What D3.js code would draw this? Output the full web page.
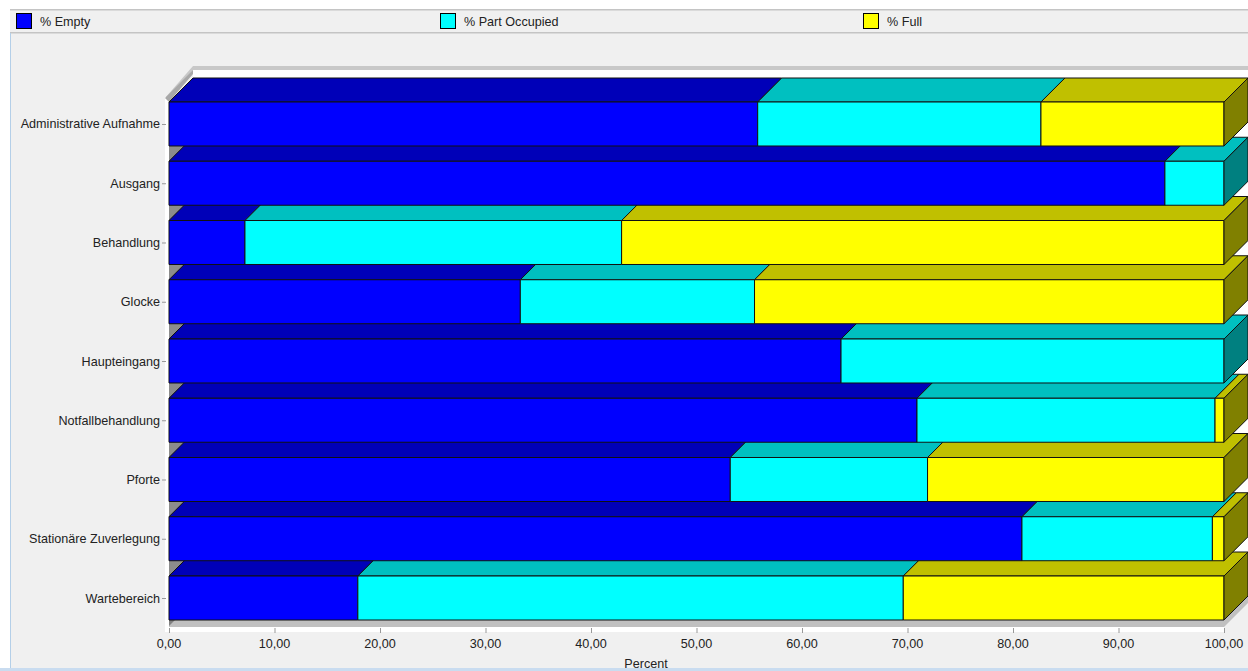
<!DOCTYPE html>
<html>
<head>
<meta charset="utf-8">
<script src="https://cdn.jsdelivr.net/npm/d3@7/dist/d3.min.js"></script>
<style>
  body { margin: 0; background: #fff; }
  svg { display: block; font-family: "Liberation Sans", Arial, sans-serif; }
</style>
</head>
<body>
<div id="chart"></div>
<script>
const categories = [
  "Administrative Aufnahme", "Ausgang", "Behandlung", "Glocke", "Haupteingang",
  "Notfallbehandlung", "Pforte", "Stationäre Zuverlegung", "Wartebereich"
];
const seriesNames = ["% Empty", "% Part Occupied", "% Full"];
const empty = [55.8, 94.4, 7.2, 33.3, 63.7, 70.9, 53.2, 80.85, 17.9];
const partOccupied = [26.85, 5.6, 35.7, 22.2, 36.3, 28.25, 18.7, 18.05, 51.7];
const full = [17.35, 0, 57.1, 44.5, 0, 0.85, 28.1, 1.1, 30.4];
const xTicks = [0, 10, 20, 30, 40, 50, 60, 70, 80, 90, 100];

const W = 1248, H = 671;
const depth = 24;
const fs = 12.6;
const colors = {
  front: ["#0000ff", "#00ffff", "#ffff00"],
  top: ["#0000b8", "#00c0c0", "#c0c000"],
  side: ["#000080", "#008080", "#808000"]
};

const svg = d3.select("#chart").append("svg").attr("width", W).attr("height", H);

// background + frame
svg.append("rect").attr("width", W).attr("height", H).attr("fill", "#f0f0f0");
svg.append("rect").attr("width", W).attr("height", 9).attr("fill", "#fff");
svg.append("rect").attr("x", 10).attr("y", 9).attr("width", W - 10).attr("height", 1.5).attr("fill", "#c4c4c4");
svg.append("rect").attr("x", 10).attr("y", 32).attr("width", W - 10).attr("height", 1.5).attr("fill", "#c4c4c4");
svg.append("rect").attr("x", 0).attr("y", 9).attr("width", 10).attr("height", H).attr("fill", "#fff");
svg.append("rect").attr("x", 10).attr("y", 33).attr("width", 1).attr("height", H).attr("fill", "#b4cfe8");
svg.append("rect").attr("x", 0).attr("y", 668).attr("width", W).attr("height", 3).attr("fill", "#c9dcf0");

// legend
const legendX = [16, 440, 863];
const legend = svg.append("g");
seriesNames.forEach((name, i) => {
  legend.append("rect")
    .attr("x", legendX[i] + 0.5).attr("y", 13.5)
    .attr("width", 15).attr("height", 15)
    .attr("fill", colors.front[i]).attr("stroke", "#000");
  legend.append("text")
    .attr("x", legendX[i] + 24).attr("y", 26)
    .attr("font-size", fs).attr("fill", "#222")
    .text(name);
});

// scales
const x = d3.scaleLinear().domain([0, 100]).range([169, 1224]);
const y = d3.scaleBand().domain(categories).range([102, 620]).paddingInner(0.2574).paddingOuter(0);

const x0 = x(0), x1 = x(100);
const floorY = y.range()[1];

// walls
const walls = svg.append("g");
// top edge of back wall
walls.append("polygon")
  .attr("points", [[165, 98], [x0 + depth, 66], [W, 66], [W, 70], [x0 + depth, 70], [169, 102]].join(" "))
  .attr("fill", "#c8c8c8");
// back wall
walls.append("rect")
  .attr("x", x0 + depth).attr("y", 70)
  .attr("width", W - x0 - depth).attr("height", floorY - depth - 70)
  .attr("fill", "#fff");
// left wall face
walls.append("polygon")
  .attr("points", [[x0, 102], [x0 + depth, 78], [x0 + depth, floorY - depth], [x0, floorY]].join(" "))
  .attr("fill", "#8c8c8c");
// left wall edge
walls.append("rect").attr("x", 165).attr("y", 97).attr("width", 4).attr("height", 535).attr("fill", "#fff");
walls.append("polygon")
  .attr("points", [[165, 98], [169, 94], [x0 + depth, 70], [x0 + depth, 74], [169, 102]].join(" "))
  .attr("fill", "#a8a8a8");
// floor edge
walls.append("polygon")
  .attr("points", [[x0, floorY], [x1, floorY], [x1 + depth, floorY - depth], [x1 + depth, floorY - depth + 7], [x1, floorY + 7], [x0, floorY + 7]].join(" "))
  .attr("fill", "#c0c0c0");
walls.append("polygon")
  .attr("points", [[x0, floorY], [x0 + 6, floorY], [x0, floorY + 6]].join(" "))
  .attr("fill", "#808080");
walls.append("rect").attr("x", 165).attr("y", floorY + 7).attr("width", x1 - 165).attr("height", 5).attr("fill", "#fff");

// stacked data
const rows = categories.map((c, i) => {
  const vals = [empty[i], partOccupied[i], full[i]];
  let acc = 0;
  const segs = vals.map((v, k) => {
    const s = { k, v, a: acc, b: acc + v };
    acc += v;
    return s;
  }).filter(s => s.v > 0);
  return { c, segs };
});

const bars = svg.append("g").attr("stroke", "#111").attr("stroke-width", 1).attr("stroke-linejoin", "round");

// draw bottom category first so upper bars overlap the top faces below
rows.slice().reverse().forEach(row => {
  const yt = y(row.c), yb = yt + y.bandwidth();
  const g = bars.append("g");
  row.segs.forEach((s, j) => {
    const xa = x(s.a), xb = x(s.b);
    g.append("polygon")
      .attr("points", [[xa, yt], [xb, yt], [xb + depth, yt - depth], [xa + depth, yt - depth]].join(" "))
      .attr("fill", colors.top[s.k]);
    g.append("rect")
      .attr("x", xa).attr("y", yt)
      .attr("width", xb - xa).attr("height", yb - yt)
      .attr("fill", colors.front[s.k]);
    if (j === row.segs.length - 1) {
      g.append("polygon")
        .attr("points", [[xb, yt], [xb + depth, yt - depth], [xb + depth, yb - depth], [xb, yb]].join(" "))
        .attr("fill", colors.side[s.k]);
    }
  });
});

// y axis labels
const yAxis = svg.append("g");
categories.forEach(c => {
  const cy = y(c) + y.bandwidth() / 2;
  yAxis.append("line")
    .attr("x1", 162).attr("x2", 166).attr("y1", cy + 0.5).attr("y2", cy + 0.5)
    .attr("stroke", "#999");
  yAxis.append("text")
    .attr("x", 160).attr("y", cy + 4.5)
    .attr("text-anchor", "end").attr("font-size", fs).attr("fill", "#222")
    .text(c);
});

// x axis
const fmt = v => d3.format(".2f")(v).replace(".", ",");
const xAxis = svg.append("g");
xTicks.forEach(t => {
  xAxis.append("line")
    .attr("x1", x(t) + 0.5).attr("x2", x(t) + 0.5)
    .attr("y1", floorY + 8).attr("y2", floorY + 13)
    .attr("stroke", "#999");
  xAxis.append("text")
    .attr("x", x(t)).attr("y", 647.5)
    .attr("text-anchor", "middle").attr("font-size", fs).attr("fill", "#222")
    .text(fmt(t));
});
svg.append("text")
  .attr("x", 646).attr("y", 668)
  .attr("text-anchor", "middle").attr("font-size", fs).attr("fill", "#222")
  .text("Percent");
</script>
</body>
</html>
